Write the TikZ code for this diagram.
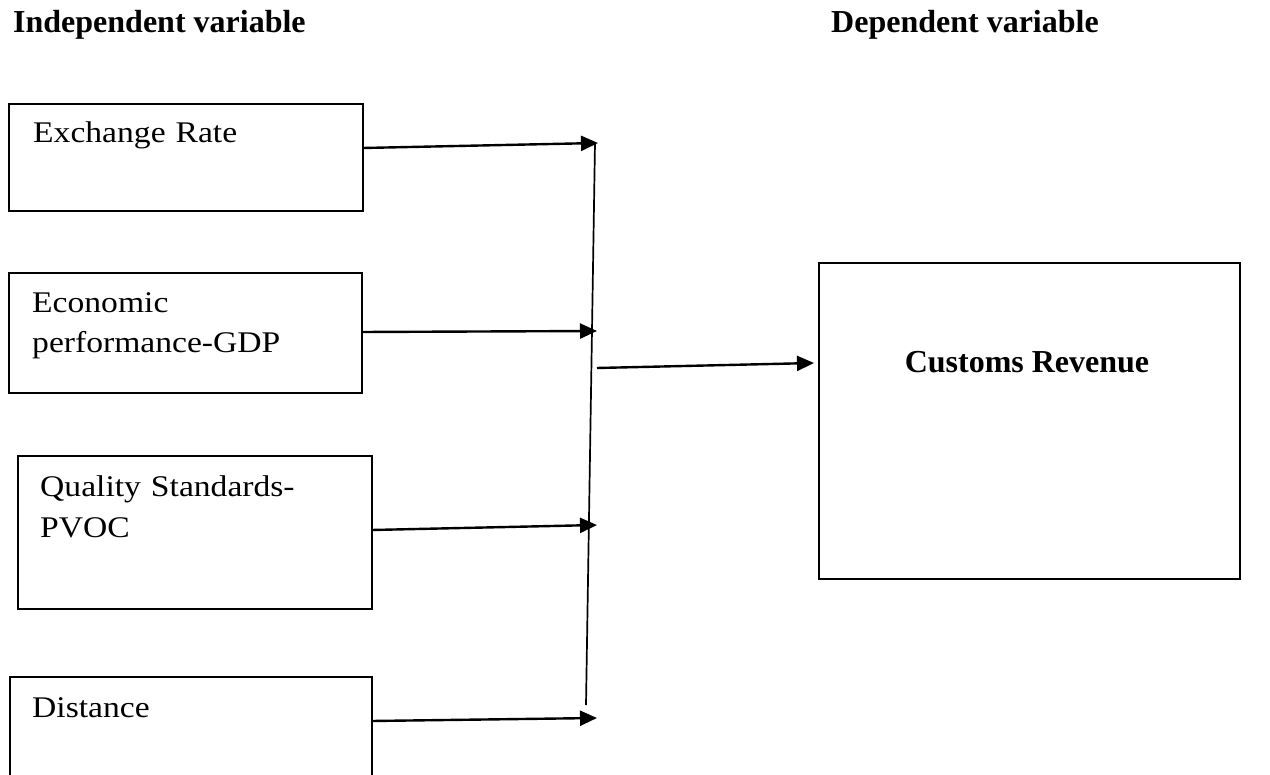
\documentclass[tikz,border=0pt]{standalone}
\usepackage{fontspec}
\setmainfont{Liberation Serif}
\newfontfamily\bodyfont[FakeStretch=1.12]{Liberation Serif}
\usetikzlibrary{arrows.meta,calc}
\begin{document}
\begin{tikzpicture}[x=1pt,y=-1pt,
  box/.style={draw,line width=1.8pt,inner sep=0pt,outer sep=0pt,anchor=north west},
  lbl/.style={anchor=base west,inner sep=0pt,text width=330pt,align=left,font=\bodyfont\fontsize{30}{40}\selectfont},
  head/.style={anchor=base west,inner sep=0pt,font=\bfseries\fontsize{32}{38}\selectfont},
  arr/.style={line width=2.4pt,-{Triangle[length=17pt,width=15pt]}},
  link/.style={line width=1.7pt}]
\useasboundingbox (0,0) rectangle (1270,775);
\fill[white] (0,0) rectangle (1270,775);
\clip (0,0) rectangle (1270,775);
% headings
\node[head] (hi) at (13,33) {Independent variable};
\node[head] (hd) at (831,33) {Dependent variable};
% boxes
\node[box,minimum width=354pt,minimum height=107pt] (b1) at (9,104) {};
\node[box,minimum width=353pt,minimum height=120pt] (b2) at (9,273) {};
\node[box,minimum width=354pt,minimum height=153pt] (b3) at (18,456) {};
\node[box,minimum width=362pt,minimum height=160pt] (b4) at (10,677) {};
\node[box,minimum width=421pt,minimum height=316pt] (b5) at (819,263) {};
% labels
\node[lbl] (l1) at (33,143) {Exchange Rate};
\node[lbl] (l2) at (32,313) {Economic\\performance-GDP};
\node[lbl] (l3) at (40,497) {Quality Standards-\\PVOC};
\node[lbl] (l4) at (32,717) {Distance};
\node[anchor=base,inner sep=0pt,font=\bfseries\fontsize{32}{38}\selectfont] (l5) at (1027,373) {Customs Revenue};
% junction coordinates
\coordinate (t1) at (598,143);
\coordinate (t2) at (597,331);
\coordinate (t3) at (597,525);
\coordinate (t4) at (597,718);
\coordinate (vtop) at (595,143);
\coordinate (vbot) at (586,705);
\coordinate (o1) at (597,368);
% connectors
\draw[arr] ($(b1.north east)+(0,44)$) -- (t1);
\draw[arr] ($(b2.north east)+(0,59)$) -- (t2);
\draw[arr] ($(b3.north east)+(0,74)$) -- (t3);
\draw[arr] ($(b4.north east)+(0,44)$) -- (t4);
\draw[link] (vtop) -- (vbot);
\draw[arr] (o1) -- ($(b5.north west)+(-5,100)$);
\end{tikzpicture}
\end{document}
